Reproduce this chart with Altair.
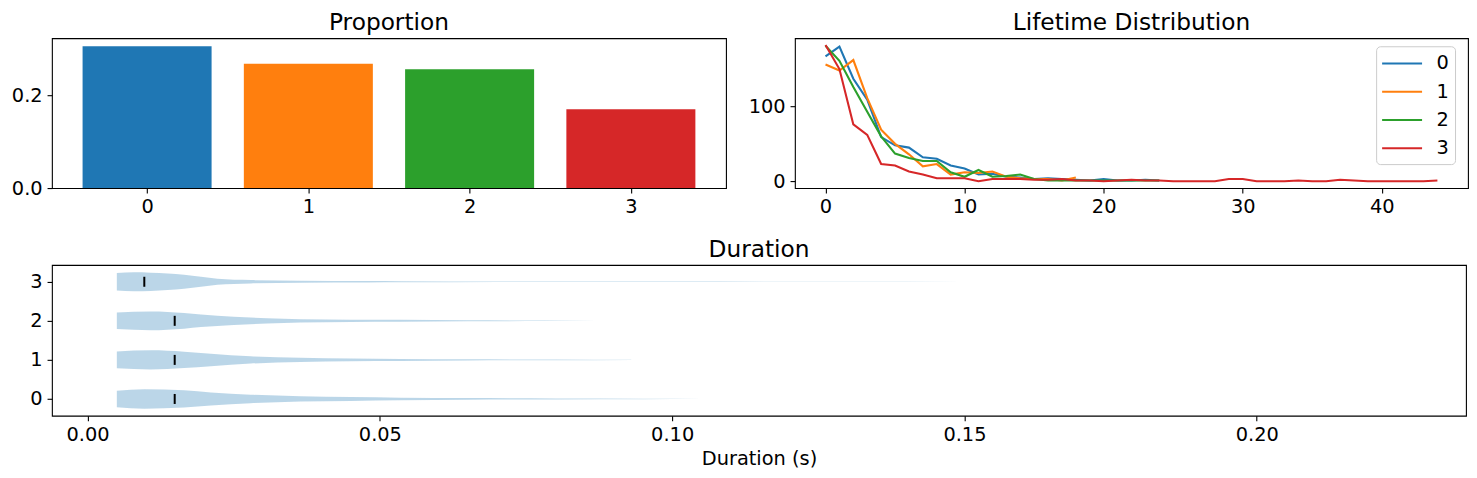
import pandas as pd
import altair as alt

# Proportion panel
prop_cats = [0, 1, 2, 3]
prop_vals = [0.306, 0.268, 0.256, 0.170]

# Lifetime distribution (counts per lifetime bin)
life_0 = [167, 180, 137, 109, 59, 48, 45, 32, 30, 21, 17, 9, 10, 6, 5, 3, 4, 3, 2, 1, 3, 1, 1, 2, 1]
life_1 = [156, 148, 162, 111, 69, 50, 36, 20, 23, 9, 12, 11, 13, 6, 4, 3, 3, 1, 5]
life_2 = [181, 161, 126, 93, 60, 37, 31, 27, 27, 12, 6, 15, 6, 7, 9, 3, 1, 1, 1, 1, 1, 1, 1, 1, 1]
life_3 = [182, 150, 76, 62, 23, 21, 13, 9, 4, 4, 4, 0, 3, 3, 3, 2, 2, 3, 1, 1, 0, 1, 2, 1, 1,
          0, 0, 0, 0, 3, 3, 0, 0, 0, 1, 0, 0, 2, 1, 0, 0, 0, 0, 0, 1]

# Duration violins: sample positions (s) and half widths (category units)
viol_x_0 = [0.005, 0.0097, 0.0165, 0.0211, 0.0279, 0.0364, 0.045, 0.0535, 0.065, 0.08, 0.095, 0.105]
viol_w_0 = [0.21, 0.248, 0.22, 0.167, 0.11, 0.068, 0.051, 0.034, 0.022, 0.012, 0.006, 0.001]
viol_x_1 = [0.005, 0.0108, 0.0165, 0.0211, 0.0279, 0.0364, 0.045, 0.0535, 0.065, 0.08, 0.093]
viol_w_1 = [0.214, 0.244, 0.21, 0.16, 0.094, 0.056, 0.034, 0.026, 0.016, 0.008, 0.001]
viol_x_2 = [0.005, 0.0108, 0.0165, 0.0194, 0.025, 0.0307, 0.0364, 0.045, 0.0535, 0.065, 0.078, 0.087]
viol_w_2 = [0.21, 0.24, 0.2, 0.16, 0.107, 0.068, 0.043, 0.03, 0.026, 0.014, 0.006, 0.001]
viol_x_3 = [0.005, 0.0079, 0.0137, 0.0165, 0.0194, 0.0222, 0.0279, 0.0364, 0.0478, 0.0535, 0.07, 0.1, 0.14, 0.18, 0.21, 0.226]
viol_w_3 = [0.222, 0.244, 0.21, 0.18, 0.13, 0.077, 0.043, 0.026, 0.017, 0.015, 0.008, 0.004, 0.003, 0.002, 0.0015, 0.0005]
medians = [0.0149, 0.0149, 0.0149, 0.0097]

tab10 = ["#1f77b4", "#ff7f0e", "#2ca02c", "#d62728"]
FONT = "DejaVu Sans"

# Proportion bars
bars = pd.DataFrame({"cat": prop_cats, "val": prop_vals, "col": tab10})
bars["x0"] = bars.cat - 0.4
bars["x1"] = bars.cat + 0.4

prop = (
    alt.Chart(bars, title="Proportion")
    .mark_rect()
    .encode(
        x=alt.X("x0:Q", scale=alt.Scale(domain=[-0.59, 3.59], nice=False, zero=False),
                axis=alt.Axis(values=[0, 1, 2, 3], format="d", title=None, minExtent=32)),
        x2="x1:Q",
        y=alt.Y("val:Q", scale=alt.Scale(domain=[0, 0.323], nice=False),
                axis=alt.Axis(values=[0, 0.2], format=".1f", title=None, minExtent=42)),
        y2=alt.datum(0),
        color=alt.Color("col:N", scale=None),
    )
    .properties(width=675, height=150)
)

# Lifetime lines
rows = []
for name, vals in [("0", life_0), ("1", life_1), ("2", life_2), ("3", life_3)]:
    for t, v in enumerate(vals):
        rows.append({"series": name, "t": t, "count": v})
life = pd.DataFrame(rows)

lines = (
    alt.Chart(life, title="Lifetime Distribution")
    .mark_line(strokeWidth=2.1)
    .encode(
        x=alt.X("t:Q", scale=alt.Scale(domain=[-2.2, 46.2], nice=False, zero=False),
                axis=alt.Axis(values=[0, 10, 20, 30, 40], title=None, minExtent=32)),
        y=alt.Y("count:Q", scale=alt.Scale(domain=[-9.1, 191.1], nice=False, zero=False),
                axis=alt.Axis(values=[0, 100], title=None, minExtent=47)),
        color=alt.Color(
            "series:N",
            scale=alt.Scale(domain=["0", "1", "2", "3"], range=tab10),
            legend=alt.Legend(
                title=None, orient="none", legendX=1326, legendY=8,
                symbolType="M-2,0H2", symbolSize=400, symbolStrokeWidth=2.1,
                symbolOffset=8.8, labelFontSize=19.4, labelFont=FONT, labelOffset=23,
                padding=5.7, rowPadding=7.3, strokeColor="#cccccc", cornerRadius=4,
                fillColor="white",
            ),
        ),
    )
    .properties(width=674, height=150)
)

# Duration violins
vrows = []
for c, (xs, ws) in enumerate([(viol_x_0, viol_w_0), (viol_x_1, viol_w_1),
                              (viol_x_2, viol_w_2), (viol_x_3, viol_w_3)]):
    for xv, wv in zip(xs, ws):
        vrows.append({"cat": c, "dur": xv, "lo": c - wv, "hi": c + wv})
viol = pd.DataFrame(vrows)
med = pd.DataFrame({"cat": prop_cats, "med": medians})
med["lo"] = med.cat - 0.128
med["hi"] = med.cat + 0.128

x_dur = alt.X("dur:Q", scale=alt.Scale(domain=[-0.0061, 0.2358], nice=False, zero=False),
              axis=alt.Axis(values=[0, 0.05, 0.1, 0.15, 0.2], format=".2f", title="Duration (s)"))
y_cat = alt.Y("lo:Q", stack=None, scale=alt.Scale(domain=[-0.43, 3.43], nice=False, zero=False),
              axis=alt.Axis(values=[0, 1, 2, 3], format="d", title=None, minExtent=42))

bodies = (
    alt.Chart(viol)
    .mark_area(orient="vertical", color="#1f77b4", opacity=0.3, interpolate="monotone")
    .encode(x=x_dur, y=y_cat, y2="hi:Q", detail="cat:N")
)
med_marks = (
    alt.Chart(med)
    .mark_rule(color="black", strokeWidth=2)
    .encode(x=alt.X("med:Q"), y=alt.Y("lo:Q"), y2="hi:Q")
)
duration = alt.layer(bodies, med_marks, title="Duration").properties(width=1416, height=151)

top = alt.hconcat(prop, lines, spacing=20)
chart = (
    alt.vconcat(top, duration, spacing=16)
    .properties(padding={"left": 1, "top": 2, "right": 0, "bottom": 0})
    .configure(font=FONT)
    .configure_view(stroke="black", strokeWidth=1.1)
    .configure_axis(
        labelFontSize=19.4, labelFont=FONT, labelColor="black", labelPadding=4.9,
        tickSize=4.9, tickWidth=1.1, tickColor="black", domain=False, grid=False,
        titleFontSize=19.4, titleFont=FONT, titleFontWeight="normal", titleColor="black",
        titlePadding=5.6,
    )
    .configure_title(fontSize=23.3, font=FONT, fontWeight="normal", color="black",
                     anchor="middle", baseline="alphabetic", offset=2.5, frame="group")
)

chart.save("out.html", embed_options={"renderer": "svg", "actions": False})
